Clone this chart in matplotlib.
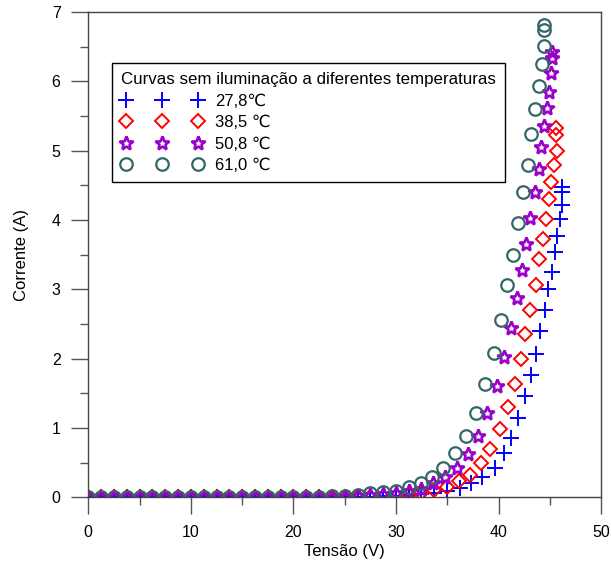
import matplotlib.pyplot as plt
from matplotlib.ticker import MultipleLocator

plt.rcParams['font.family'] = ['Liberation Sans', 'DejaVu Sans']

# Tensão (V) / Corrente (A)
v_low = [0, 1.25, 2.5, 3.75, 5.0, 6.25, 7.5, 8.75, 10.0, 11.25, 12.5, 13.75, 15.0,
         16.25, 17.5, 18.75, 20.0, 21.25, 22.5, 23.75, 25.0, 26.25, 27.5, 28.75, 30.0, 31.25]

v_278 = v_low + [32.4, 33.7, 35.0, 36.2, 37.35, 38.4, 39.6, 40.5, 41.2, 41.9, 42.6, 43.2,
                 43.6, 44.0, 44.5, 44.85, 45.2, 45.5, 45.7, 45.95, 46.15, 46.2, 46.2]
i_278 = [0, 0, 0, 0, 0, 0, 0, 0, 0, 0, 0, 0, 0, 0, 0, 0, 0, 0, 0, 0, 0.003, 0.005, 0.01,
         0.015, 0.02, 0.03,
         0.045, 0.07, 0.094, 0.133, 0.205, 0.30, 0.43, 0.64, 0.86, 1.14, 1.46, 1.77,
         2.07, 2.40, 2.70, 3.00, 3.25, 3.54, 3.77, 4.02, 4.21, 4.40, 4.48]

v_385 = v_low + [32.4, 33.7, 34.96, 36.1, 37.2, 38.3, 39.2, 40.1, 40.9, 41.6, 42.2, 42.6,
                 43.1, 43.6, 43.9, 44.3, 44.65, 44.9, 45.1, 45.4, 45.65, 45.6, 45.6]
i_385 = [0, 0, 0, 0, 0, 0, 0, 0, 0, 0, 0, 0, 0, 0, 0, 0, 0, 0, 0, 0, 0.003, 0.005, 0.008,
         0.012, 0.02, 0.036,
         0.06, 0.108, 0.156, 0.23, 0.325, 0.49, 0.705, 0.99, 1.30, 1.64, 2.00, 2.36,
         2.71, 3.07, 3.44, 3.72, 4.02, 4.30, 4.55, 4.79, 5.00, 5.22, 5.33]

v_508 = v_low + [32.4, 33.6, 34.8, 35.9, 36.97, 38.0, 38.9, 39.8, 40.5, 41.2, 41.8, 42.3,
                 42.7, 43.1, 43.55, 43.9, 44.1, 44.4, 44.7, 44.9, 45.1, 45.2, 45.2]
i_508 = [0, 0, 0, 0, 0, 0, 0, 0, 0, 0, 0, 0, 0, 0, 0, 0, 0, 0.003, 0.006, 0.01, 0.012,
         0.02, 0.03, 0.05, 0.07, 0.094,
         0.125, 0.205, 0.29, 0.42, 0.63, 0.88, 1.22, 1.60, 2.03, 2.45, 2.88, 3.28,
         3.66, 4.03, 4.40, 4.73, 5.05, 5.35, 5.61, 5.85, 6.12, 6.33, 6.42]

v_610 = v_low + [32.4, 33.5, 34.6, 35.7, 36.8, 37.8, 38.7, 39.5, 40.2, 40.8, 41.4, 41.9,
                 42.4, 42.9, 43.2, 43.55, 43.9, 44.2, 44.4, 44.4, 44.4]
i_610 = [0, 0, 0, 0, 0, 0, 0, 0, 0, 0, 0, 0, 0, 0, 0, 0, 0, 0.005, 0.01, 0.02, 0.026,
         0.036, 0.06, 0.075, 0.10, 0.147,
         0.205, 0.30, 0.43, 0.64, 0.88, 1.22, 1.63, 2.08, 2.56, 3.06, 3.49, 3.96,
         4.40, 4.80, 5.24, 5.60, 5.93, 6.25, 6.51, 6.74, 6.81]

labels = ['27,8\u2103', '38,5 \u2103', '50,8 \u2103', '61,0 \u2103']

fig = plt.figure(figsize=(6.11, 5.64), dpi=100)
ax = fig.add_axes([0.1445, 0.118, 0.8395, 0.8607])

ax.plot(v_278, i_278, linestyle='none', marker='+', markersize=11, mew=1.4,
        color='#0000FF', label=labels[0])
ax.plot(v_385, i_385, linestyle='none', marker='D', markersize=7.5, mew=1.4,
        mfc='none', color='#FF0000', label=labels[1])
ax.plot(v_508, i_508, linestyle='none', marker='*', markersize=10, mew=1.9,
        mfc='none', color='#9900CC', label=labels[2])
ax.plot(v_610, i_610, linestyle='none', marker='o', markersize=9, mew=1.6,
        mfc='none', color='#336666', label=labels[3])

ax.set_xlim(0, 50)
ax.set_ylim(0, 7)
ax.xaxis.set_major_locator(MultipleLocator(10))
ax.xaxis.set_minor_locator(MultipleLocator(5))
ax.yaxis.set_major_locator(MultipleLocator(1))
ax.yaxis.set_minor_locator(MultipleLocator(0.5))
ax.tick_params(which='major', length=12, width=1, color='#555555', labelsize=11.5, pad=8)
ax.tick_params(which='minor', length=6, width=1, color='#555555')
for s in ax.spines.values():
    s.set_color('#444444')
    s.set_linewidth(1)

ax.set_xlabel('Tensão (V)', fontsize=12, labelpad=3)
ax.set_ylabel('Corrente (A)', fontsize=12, labelpad=16)

leg = ax.legend(title='Curvas sem iluminação a diferentes temperaturas',
                loc='upper left', bbox_to_anchor=(0.046, 0.895), borderaxespad=0,
                numpoints=3, handlelength=4.9, handletextpad=0.75, borderpad=0.55,
                labelspacing=0.39, fontsize=12, title_fontsize=12.2, alignment='left',
                fancybox=False, framealpha=1, edgecolor='black')
leg.get_frame().set_linewidth(1)

fig.savefig('out.png', dpi=100)
